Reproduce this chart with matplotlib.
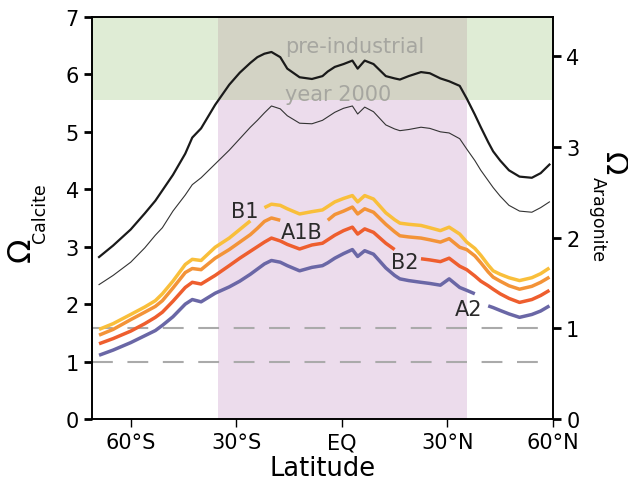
import numpy as np
import matplotlib
matplotlib.use('Agg')
import matplotlib.pyplot as plt

# latitude grid (negative = south)
lat = np.array([-69, -65, -60, -56, -53, -51, -48, -44.5, -42.5, -40, -36, -32, -29, -26, -24, -22,
                -20, -17.5, -15.5, -12, -8.5, -5.5, -4, -2, 0.5, 3, 4.5, 6.5, 9, 12.5, 15, 16.5,
                19, 22.5, 25, 28, 30.5, 33.5, 35.5, 37.8, 39.5, 41.6, 43, 45, 47.5, 50.5, 54, 56.5, 59])

preindustrial = [2.82, 3.02, 3.3, 3.58, 3.8, 3.98, 4.25, 4.62, 4.9, 5.06, 5.47, 5.82, 6.03, 6.2, 6.3, 6.36,
                 6.39, 6.3, 6.1, 5.95, 5.92, 5.97, 6.05, 6.13, 6.18, 6.24, 6.1, 6.24, 6.18, 5.97, 5.93, 5.91,
                 5.97, 6.04, 6.02, 5.93, 5.88, 5.8, 5.58, 5.3, 5.08, 4.82, 4.66, 4.5, 4.33, 4.22, 4.2, 4.28, 4.43]
year2000 = [2.34, 2.5, 2.73, 2.98, 3.2, 3.33, 3.62, 3.9, 4.08, 4.2, 4.44, 4.68, 4.88, 5.08, 5.2, 5.33,
            5.45, 5.4, 5.28, 5.15, 5.14, 5.2, 5.26, 5.34, 5.41, 5.45, 5.31, 5.43, 5.35, 5.12, 5.05, 5.02,
            5.04, 5.08, 5.06, 5.0, 4.98, 4.88, 4.7, 4.5, 4.33, 4.15, 4.03, 3.88, 3.72, 3.62, 3.6, 3.68, 3.78]
b1 = [1.56, 1.66, 1.82, 1.95, 2.06, 2.18, 2.4, 2.69, 2.78, 2.76, 2.99, 3.15, 3.3, 3.45, 3.57, 3.68,
      3.74, 3.72, 3.66, 3.57, 3.61, 3.64, 3.7, 3.78, 3.84, 3.89, 3.78, 3.89, 3.83, 3.59, 3.47, 3.41,
      3.39, 3.37, 3.33, 3.28, 3.34, 3.22, 3.08, 2.97, 2.85, 2.68, 2.58, 2.52, 2.46, 2.41, 2.46, 2.53, 2.63]
a1b = [1.46, 1.56, 1.73, 1.86, 1.96, 2.06, 2.28, 2.55, 2.62, 2.6, 2.8, 2.95, 3.08, 3.21, 3.32, 3.44,
       3.5, 3.46, 3.42, 3.36, 3.38, 3.42, 3.46, 3.56, 3.62, 3.69, 3.57, 3.66, 3.6, 3.39, 3.26, 3.19,
       3.17, 3.15, 3.12, 3.08, 3.14, 2.99, 2.95, 2.84, 2.72, 2.56, 2.47, 2.4, 2.32, 2.26, 2.31, 2.38, 2.47]
b2 = [1.31, 1.4, 1.53, 1.66, 1.77, 1.86, 2.05, 2.29, 2.38, 2.35, 2.5, 2.67, 2.8, 2.92, 3.0, 3.08,
      3.15, 3.1, 3.04, 2.96, 3.03, 3.06, 3.12, 3.2, 3.28, 3.34, 3.22, 3.31, 3.25, 3.06, 2.95, 2.9,
      2.84, 2.79, 2.77, 2.74, 2.8, 2.66, 2.6, 2.49, 2.4, 2.32, 2.26, 2.18, 2.1, 2.03, 2.08, 2.15, 2.24]
a2 = [1.11, 1.2, 1.33, 1.45, 1.54, 1.63, 1.78, 2.0, 2.08, 2.04, 2.19, 2.3, 2.4, 2.52, 2.61, 2.7,
      2.76, 2.73, 2.67, 2.58, 2.64, 2.67, 2.72, 2.8, 2.88, 2.95, 2.83, 2.93, 2.87, 2.63, 2.5, 2.44,
      2.41, 2.38, 2.36, 2.33, 2.44, 2.29, 2.24, 2.18, 2.07, 1.97, 1.94, 1.89, 1.83, 1.77, 1.82, 1.88, 1.97]

# scenario name, values, colour, label position (lat, omega), gap in line for label
scenarios = [
    ('B1', b1, '#f9bf3b', (-27.5, 3.63), (-25.9, -22.1)),
    ('A1B', a1b, '#f39338', (-11.4, 3.25), (-17.4, -4.1)),
    ('B2', b2, '#ee5e2e', (18.0, 2.74), (15.1, 22.4)),
    ('A2', a2, '#6a67a6', (36.0, 1.92), (37.9, 41.5)),
]

xticks = [-60, -30, 0, 30, 60]
xticklabels = ['60°S', '30°S', 'EQ', '30°N', '60°N']
ratio = 1.58  # calcite / aragonite

fig = plt.figure(figsize=(6.28, 4.85), dpi=100)
ax = fig.add_axes([0.1465, 0.134, 0.734, 0.829])

green = '#dfecd5'
purple = '#ecdcec'
overlap = '#d3d3c5'
ax.axhspan(5.55, 7, color=green, lw=0, zorder=0)
ax.axvspan(-35.2, 35.5, color=purple, lw=0, zorder=0)
ax.fill_between([-35.2, 35.5], 5.55, 7, color=overlap, lw=0, zorder=0)

ax.axhline(1.0, color='#aaaaaa', lw=1.5, dashes=(10, 7), zorder=1)
ax.axhline(ratio, color='#aaaaaa', lw=1.5, dashes=(10, 7), zorder=1)

ax.plot(lat, preindustrial, color='#1a1a1a', lw=1.6, zorder=3)
ax.plot(lat, year2000, color='#333333', lw=0.8, zorder=3)

for name, vals, col, pos, gap in scenarios:
    v = np.ma.masked_where((lat > gap[0]) & (lat < gap[1]), np.array(vals))
    ax.plot(lat, v, color=col, lw=2.5, zorder=4, solid_capstyle='butt')
    ax.text(pos[0], pos[1], name, fontsize=15, color='#2a2a2a', ha='center', va='center', zorder=5)

ax.text(-16.1, 6.5, 'pre-industrial', fontsize=15, color='#a6a6a0', ha='left', va='center', zorder=2)
ax.text(-16.1, 5.66, 'year 2000', fontsize=15, color='#a6a6a0', ha='left', va='center', zorder=2)

ax.set_xlim(-71, 60)
ax.set_ylim(0, 7)
ax.set_xticks(xticks)
ax.set_xticklabels(xticklabels)
ax.set_yticks(range(0, 8))
ax.tick_params(axis='both', labelsize=15, direction='out')
ax.tick_params(axis='y', length=6, width=2)
ax.tick_params(axis='x', length=6, width=1)
ax.set_xlabel('Latitude', fontsize=18.5, labelpad=2)

ax2 = ax.twinx()
ax2.set_ylim(0, 7 / ratio)
ax2.set_yticks(range(0, 5))
ax2.tick_params(axis='y', labelsize=15, length=6, width=2, direction='out')

for a in (ax, ax2):
    for s in a.spines.values():
        s.set_color('black')
        s.set_linewidth(1.2)

# axis titles built from two texts so Omega can be larger than its subscript
fig.text(21 / 628, 1 - 250 / 485, 'Ω', fontsize=23, rotation=90, ha='center', va='center')
fig.text(40 / 628, 1 - 213 / 485, 'Calcite', fontsize=12.5, rotation=90, ha='center', va='center')
fig.text(613 / 628, 1 - 164 / 485, 'Ω', fontsize=22, rotation=270, ha='center', va='center')
fig.text(598 / 628, 1 - 220 / 485, 'Aragonite', fontsize=12.5, rotation=270, ha='center', va='center')

fig.savefig('out.png', dpi=100)
